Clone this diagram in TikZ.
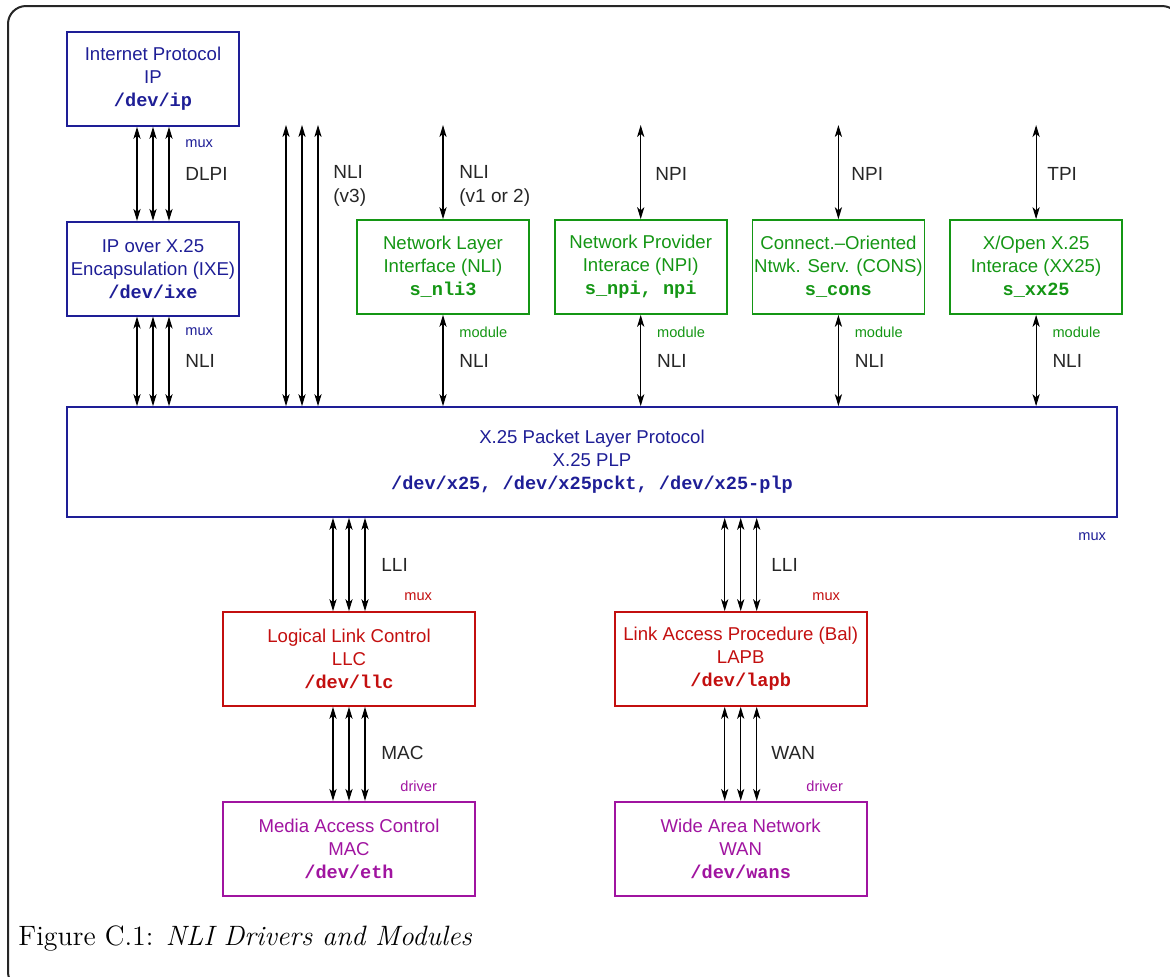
\documentclass[tikz,border=0pt]{standalone}
\usepackage{fontspec}
\usepackage{tikz}
\usetikzlibrary{positioning}
\usetikzlibrary{arrows.meta}
\newfontfamily\arialf{Liberation Sans}
\newfontfamily\courf{Liberation Mono}
\definecolor{ipblue}{RGB}{30,30,150}
\definecolor{modgreen}{RGB}{20,150,20}
\definecolor{llred}{RGB}{195,15,15}
\definecolor{drvpurple}{RGB}{160,20,160}
\newcommand{\devname}[1]{{\courf\bfseries #1}}
\tikzset{%
  box/.style = {rectangle,draw=#1,text=#1,line width=0.85pt,
        minimum width=86pt,minimum height=47pt,inner sep=0pt,
        align=center,font=\arialf\fontsize{9.3}{11.5}\selectfont},
  wbox/.style = {box=#1,minimum width=126pt},
  lbl/.style = {anchor=west,inner sep=0pt,align=left,text=black!85,
        font=\arialf\fontsize{9.5}{12}\selectfont},
  tag/.style = {anchor=west,inner sep=0pt,
        font=\arialf\fontsize{7.3}{9}\selectfont},
  dbl/.style = {<->,>={Stealth[length=6pt,width=3.6pt,inset=1.6pt]},line width=0.55pt}
}

\begin{document}
\begin{tikzpicture}[x=0.5pt,y=-0.5pt]
  \useasboundingbox (0,0) rectangle (1170,976);
  \begin{scope}
    \clip (0,0) rectangle (1170,976);
    \draw[line width=1pt,black!85,rounded corners=9pt] (8,6) rectangle (1180,990);
  \end{scope}

  \node[box=ipblue] (ip) at (153,79) {Internet Protocol\\IP\\\devname{/dev/ip}};
  \node[box=ipblue] (ixe) [below=47pt of ip] {IP over X.25\\Encapsulation (IXE)\\\devname{/dev/ixe}};

  \node[box=modgreen] (nli) at (443,267) {Network Layer\\Interface (NLI)\\\devname{s\_nli3}};
  \node[box=modgreen] (npi) [right=12pt of nli] {Network Provider\\Interace (NPI)\\\devname{s\_npi, npi}};
  \node[box=modgreen] (cons) [right=12pt of npi] {Connect.–Oriented\\Ntwk. Serv. (CONS)\\\devname{s\_cons}};
  \node[box=modgreen] (xx) [right=12pt of cons] {X/Open X.25\\Interace (XX25)\\\devname{s\_xx25}};

  \node[box=ipblue,minimum width=525pt,minimum height=55pt] (plp) at (592,462)
       {X.25 Packet Layer Protocol\\X.25 PLP\\\devname{/dev/x25, /dev/x25pckt, /dev/x25-plp}};

  \node[wbox=llred] (llc) at (349,659) {Logical Link Control\\LLC\\\devname{/dev/llc}};
  \node[wbox=llred] (lapb) [right=69pt of llc] {Link Access Procedure (Bal)\\LAPB\\\devname{/dev/lapb}};
  \node[wbox=drvpurple] (mac) [below=47pt of llc] {Media Access Control\\MAC\\\devname{/dev/eth}};
  \node[wbox=drvpurple] (wan) [below=47pt of lapb] {Wide Area Network\\WAN\\\devname{/dev/wans}};

  \coordinate (top) at (0,125);
  \coordinate (v3) at (302,125);
  \foreach \dx in {-8pt,0pt,8pt} {
    \draw[dbl] ([xshift=\dx]ip.south) -- ([xshift=\dx]ixe.north);
    \draw[dbl] ([xshift=\dx]ixe.south) -- ([xshift=\dx]ixe.south |- plp.north);
    \draw[dbl] ([xshift=\dx]v3) -- ([xshift=\dx]v3 |- plp.north);
    \draw[dbl] ([xshift=\dx]llc.north) -- ([xshift=\dx]llc.north |- plp.south);
    \draw[dbl] ([xshift=\dx]lapb.north) -- ([xshift=\dx]lapb.north |- plp.south);
    \draw[dbl] ([xshift=\dx]llc.south) -- ([xshift=\dx]mac.north);
    \draw[dbl] ([xshift=\dx]lapb.south) -- ([xshift=\dx]wan.north);
  }
  \foreach \m in {nli,npi,cons,xx} {
    \draw[dbl] (\m.north) -- (\m.north |- top);
    \draw[dbl] (\m.south) -- (\m.south |- plp.north);
    \node[tag,text=modgreen] (\m mod) at ([xshift=8pt]\m.south |- 0,332) {module};
    \node[lbl] (\m low) at ([xshift=8pt]\m.south |- 0,361) {NLI};
  }

  \node[tag,text=ipblue] (muxip) at (185,144) {mux};
  \node[lbl] (dlpi) at (185,174) {DLPI};
  \node[tag,text=ipblue] (muxixe) at (185,332) {mux};
  \node[lbl] (nliixe) at (185,361) {NLI};
  \node[lbl] (nliv3) at (333,186) {NLI\\(v3)};
  \node[lbl] (nliup) at (459,186) {NLI\\(v1 or 2)};
  \node[lbl] (npiup) at (655,174) {NPI};
  \node[lbl] (consup) at (851,174) {NPI};
  \node[lbl] (xxup) at (1047,174) {TPI};
  \node[tag,text=ipblue] (muxplp) at (1078,537) {mux};

  \node[lbl] (llcin) at (381,565) {LLI};
  \node[lbl] (lapbin) at (771,565) {LLI};
  \node[tag,text=llred] (muxllc) at (404,597) {mux};
  \node[tag,text=llred] (muxlapb) at (812,597) {mux};
  \node[lbl] (macin) at (381,753) {MAC};
  \node[lbl] (wanin) at (771,753) {WAN};
  \node[tag,text=drvpurple] (drvmac) at (400,786) {driver};
  \node[tag,text=drvpurple] (drvwan) at (806,786) {driver};

  \node[anchor=base west,inner sep=0pt,font=\fontsize{14}{17}\selectfont] (caption) at (18,945)
       {Figure C.1: \textit{NLI Drivers and Modules}};
\end{tikzpicture}
\end{document}
